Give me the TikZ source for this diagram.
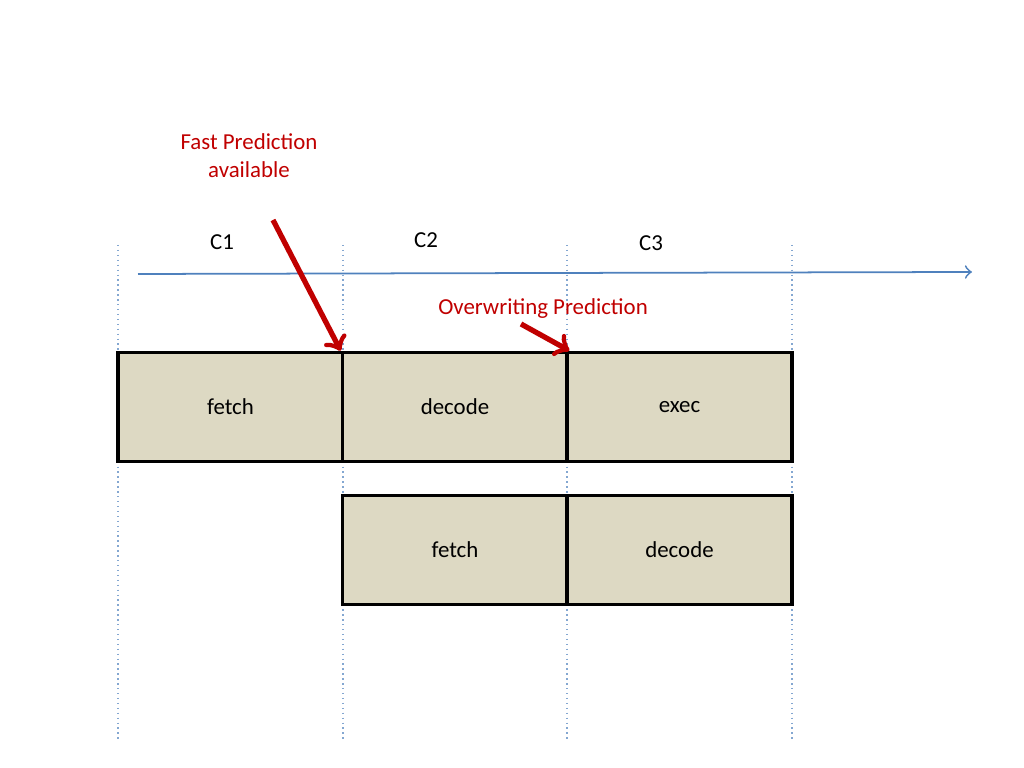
\documentclass[tikz,border=0pt]{standalone}
\usepackage{fontspec}
\setmainfont{Carlito}
\usepackage{tikz}
\definecolor{boxfill}{RGB}{221,217,195}
\definecolor{predred}{RGB}{192,0,0}
\definecolor{axisblue}{RGB}{79,129,189}
\tikzset{
  stage/.style={draw=black,line width=1pt,fill=boxfill,minimum width=2.25cm,minimum height=1.09cm,inner sep=0pt,font=\fontsize{6.5}{8}\selectfont},
  cyc/.style={font=\fontsize{6.5}{8}\selectfont},
  pred/.style={text=predred,align=center,font=\fontsize{6.5}{8}\selectfont},
}
\begin{document}
\begin{tikzpicture}[x=0.01cm,y=-0.01cm]
	\useasboundingbox (0,0) rectangle (1024,768);

	% cycle boundaries
	\foreach \x in {118,343,567,792}
	  \draw[axisblue!70,densely dotted,line width=0.4pt] (\x,245) -- (\x,742);

	\coordinate (t0) at (138,274);
	\coordinate (t1) at (972,272);
	\draw[->,axisblue,line width=0.5pt] (t0) -- (t1);

	\node[cyc] (c1) at (222,242) {C1};
	\node[cyc] (c2) at (426,240) {C2};
	\node[cyc] (c3) at (651,243) {C3};

	\node[stage] (f1) at (230.5,407) {fetch};
	\node[stage] (d1) at (455,407) {decode};
	\node[stage] (e1) at (679.5,407) {exec};
	\node[stage] (f2) at (455,550) {fetch};
	\node[stage] (d2) at (679.5,550) {decode};

	\node[pred] (fast) at (249,156) {Fast Prediction\\available};
	\node[pred] (over) at (543,309) {Overwriting Prediction};

	\coordinate (fs) at (273,220);
	\coordinate (os) at (521,324);
	\draw[->,predred,line width=1.5pt] (fs) -- (d1.north west);
	\draw[->,predred,line width=1.5pt] (os) -- (d1.north east);

	\end{tikzpicture}
\end{document}
